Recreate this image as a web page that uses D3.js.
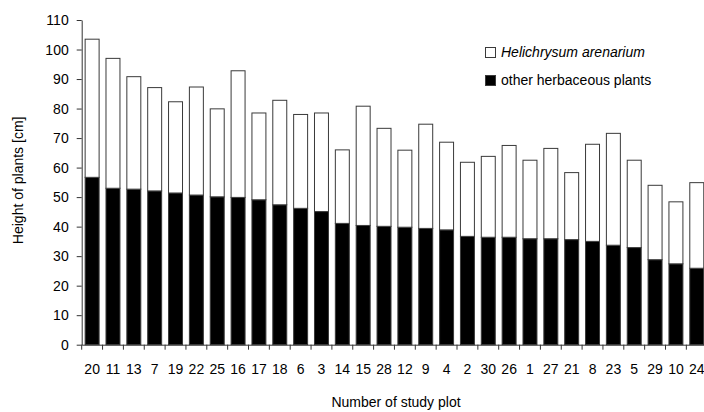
<!DOCTYPE html>
<html>
<head>
<meta charset="utf-8">
<script src="https://cdn.jsdelivr.net/npm/d3@7/dist/d3.min.js"></script>
<style>
  html, body { margin: 0; padding: 0; background: #fff; }
  svg { display: block; font-family: "Liberation Sans", Arial, sans-serif; }
</style>
</head>
<body>
<svg id="chart" width="704" height="412"></svg>
<script>
// Study plots, ordered by height of the other herbaceous plants
const plots = ["20","11","13","7","19","22","25","16","17","18","6","3","14","15","28",
               "12","9","4","2","30","26","1","27","21","8","23","5","29","10","24"];

// Mean height of other herbaceous plants [cm]
const otherPlants = [56.7,53.0,52.7,52.1,51.4,50.7,50.1,49.9,49.1,47.4,46.2,45.1,41.1,40.4,40.1,
                     39.8,39.4,38.9,36.7,36.4,36.4,35.9,35.9,35.6,35.0,33.7,32.9,28.8,27.4,25.9];

// Additional height of Helichrysum arenarium stacked on top [cm]
const helichrysum = [46.8,44.0,38.1,35.0,30.9,36.6,29.8,42.9,29.4,35.4,31.8,33.4,24.9,40.4,33.2,
                     26.1,35.3,29.7,25.1,27.4,31.1,26.6,30.6,22.7,32.9,37.9,29.6,25.2,21.0,29.0];

const yTicks = [0,10,20,30,40,50,60,70,80,90,100,110];

const seriesKeys = ["other", "heli"];
const rows = plots.map((p, i) => ({ plot: p, other: otherPlants[i], heli: helichrysum[i] }));
const stacked = d3.stack().keys(seriesKeys)(rows);

const svg = d3.select("#chart");
const plotLeft = 81.7, plotRight = 707.2, plotTop = 20, plotBottom = 344.7;
const fontSize = 14;

const x = d3.scaleBand().domain(plots).range([plotLeft, plotRight]).paddingInner(0.33).paddingOuter(0.165);
const y = d3.scaleLinear().domain([0, 110]).range([plotBottom, plotTop]);

const fills = { other: "#000", heli: "#fff" };

// Stacked bars
svg.append("g").selectAll("g")
  .data(stacked)
  .join("g")
  .attr("fill", d => fills[d.key])
  .selectAll("rect")
  .data(d => d)
  .join("rect")
  .attr("x", d => x(d.data.plot))
  .attr("width", x.bandwidth())
  .attr("y", d => y(d[1]))
  .attr("height", d => y(d[0]) - y(d[1]))
  .attr("stroke", "#3a3a3a")
  .attr("stroke-width", 1);

// Y axis
const yAxis = svg.append("g")
  .attr("transform", `translate(${plotLeft},0)`)
  .call(d3.axisLeft(y).tickValues(yTicks).tickSize(5).tickPadding(8).tickSizeOuter(0));
yAxis.selectAll("text").attr("font-size", fontSize).attr("fill", "#000").attr("font-family", null);
yAxis.selectAll("line, path").attr("stroke", "#333");

// X axis: labels under each bar, tick marks between bars
const step = x.step();
const xAxis = svg.append("g")
  .attr("transform", `translate(0,${plotBottom})`)
  .call(d3.axisBottom(x).tickSize(0).tickSizeOuter(0));
xAxis.select("path").attr("stroke", "#333");
xAxis.selectAll("text")
  .attr("font-size", fontSize).attr("fill", "#000").attr("font-family", null)
  .attr("y", 19);

const boundaries = plots.map(p => x(p) - step * x.paddingInner() / 2);
boundaries.push(x(plots[plots.length - 1]) + x.bandwidth() + step * x.paddingInner() / 2);
svg.append("g").selectAll("line")
  .data(boundaries)
  .join("line")
  .attr("x1", d => d).attr("x2", d => d)
  .attr("y1", plotBottom).attr("y2", plotBottom + 5)
  .attr("stroke", "#333");

// Axis titles
svg.append("text")
  .attr("transform", `translate(22.5,${(plotTop + plotBottom) / 2 - 2}) rotate(-90)`)
  .attr("text-anchor", "middle")
  .attr("font-size", fontSize)
  .text("Height of plants [cm]");

svg.append("text")
  .attr("x", 396).attr("y", 407)
  .attr("text-anchor", "middle")
  .attr("font-size", fontSize)
  .text("Number of study plot");

// Legend
const legendItems = [
  { label: "Helichrysum arenarium", fill: "#fff", italic: true, y: 47 },
  { label: "other herbaceous plants", fill: "#000", italic: false, y: 75 }
];
const legend = svg.append("g");
legend.selectAll("rect")
  .data(legendItems)
  .join("rect")
  .attr("x", 485.5).attr("y", d => d.y + 0.5)
  .attr("width", 10).attr("height", 10)
  .attr("fill", d => d.fill)
  .attr("stroke", "#3a3a3a");
legend.selectAll("text")
  .data(legendItems)
  .join("text")
  .attr("x", 501).attr("y", d => d.y + 10)
  .attr("font-size", fontSize)
  .attr("font-style", d => d.italic ? "italic" : "normal")
  .text(d => d.label);
</script>
</body>
</html>
